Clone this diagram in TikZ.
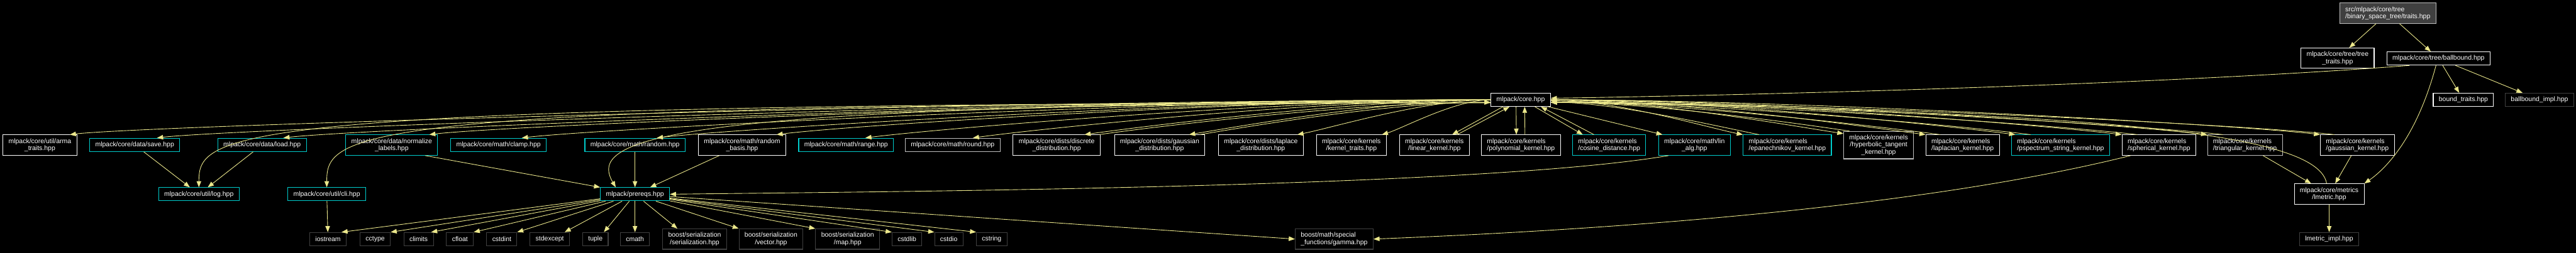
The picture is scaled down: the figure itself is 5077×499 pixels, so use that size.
\documentclass[tikz,border=0pt]{standalone}
\usepackage{fontspec}
\setmainfont{Liberation Sans}
\usetikzlibrary{arrows.meta}

\definecolor{edgecol}{RGB}{236,232,140}
\definecolor{trunccol}{RGB}{0,204,204}
\definecolor{undoccol}{RGB}{191,191,191}
\definecolor{syscol}{RGB}{64,64,64}
\definecolor{rootfill}{RGB}{64,64,64}

\begin{document}
\begin{tikzpicture}[x=1pt, y=1pt, font=\fontsize{13}{14}\selectfont,
        hdr/.style={draw, fill=black, text=white, line width=1.3pt, inner xsep=11pt, inner ysep=7pt, minimum height=26pt, align=center},
        doc/.style={hdr, draw=white},
        undoc/.style={hdr, draw=undoccol},
        trunc/.style={hdr, draw=trunccol},
        sys/.style={hdr, draw=syscol},
        root/.style={hdr, draw=undoccol, fill=rootfill},
        dep/.style={draw=edgecol, line width=1.1pt, -{Triangle[length=12pt, width=9pt]}}]

        \fill[black] (0,0) rectangle (5077,-499);
        \useasboundingbox (0,0) rectangle (5077,-499);

        \node[root, align=left] (traits) at (4706,-26) {src/mlpack/core/tree\\/binary\_space\_tree/traits.hpp};
        \node[doc] (treetraits) at (4607,-115) {mlpack/core/tree/tree\\\_traits.hpp};
        \node[doc] (ballbound) at (4806,-115.5) {mlpack/core/tree/ballbound.hpp};
        \node[doc] (boundtraits) at (4855,-197) {bound\_traits.hpp};
        \node[sys] (ballboundimpl) at (5005,-197) {ballbound\_impl.hpp};
        \node[doc] (core) at (2997,-197) {mlpack/core.hpp};

        \node[doc] (armatraits) at (78.6,-286.5) {mlpack/core/util/arma\\\_traits.hpp};
        \node[trunc] (save) at (265.5,-286) {mlpack/core/data/save.hpp};
        \node[trunc] (load) at (516.5,-286) {mlpack/core/data/load.hpp};
        \node[trunc] (normlabels) at (772,-286.5) {mlpack/core/data/normalize\\\_labels.hpp};
        \node[trunc] (clamp) at (982.5,-286) {mlpack/core/math/clamp.hpp};
        \node[trunc] (random) at (1251.5,-286) {mlpack/core/math/random.hpp};
        \node[doc] (randbasis) at (1462.5,-286.5) {mlpack/core/math/random\\\_basis.hpp};
        \node[trunc] (range) at (1667.5,-286) {mlpack/core/math/range.hpp};
        \node[undoc] (round) at (1877.5,-286) {mlpack/core/math/round.hpp};
        \node[doc] (discrete) at (2082.5,-286.5) {mlpack/core/dists/discrete\\\_distribution.hpp};
        \node[doc] (gaussdist) at (2285.5,-286.5) {mlpack/core/dists/gaussian\\\_distribution.hpp};
        \node[doc] (laplacedist) at (2485,-286.5) {mlpack/core/dists/laplace\\\_distribution.hpp};
        \node[doc] (kerneltraits) at (2663.5,-286.5) {mlpack/core/kernels\\/kernel\_traits.hpp};
        \node[doc] (linear) at (2827,-286.5) {mlpack/core/kernels\\/linear\_kernel.hpp};
        \node[doc, align=left] (polynomial) at (2997.5,-286.5) {mlpack/core/kernels\\/polynomial\_kernel.hpp};
        \node[trunc, align=left] (cosine) at (3171.5,-286.5) {mlpack/core/kernels\\/cosine\_distance.hpp};
        \node[trunc] (linalg) at (3339.5,-286.5) {mlpack/core/math/lin\\\_alg.hpp};
        \node[trunc, align=left] (epan) at (3522.5,-286.5) {mlpack/core/kernels\\/epanechnikov\_kernel.hpp};
        \node[undoc] (hyptan) at (3702.5,-286.5) {mlpack/core/kernels\\/hyperbolic\_tangent\\\_kernel.hpp};
        \node[doc, align=left] (laplacian) at (3868,-286.5) {mlpack/core/kernels\\/laplacian\_kernel.hpp};
        \node[trunc, align=left] (pspectrum) at (4061,-286.5) {mlpack/core/kernels\\/pspectrum\_string\_kernel.hpp};
        \node[doc, align=left] (spherical) at (4255,-286.5) {mlpack/core/kernels\\/spherical\_kernel.hpp};
        \node[undoc, align=left] (triangular) at (4424.5,-286.5) {mlpack/core/kernels\\/triangular\_kernel.hpp};
        \node[doc, align=left] (gausskernel) at (4646,-286.5) {mlpack/core/kernels\\/gaussian\_kernel.hpp};

        \node[trunc] (log) at (392,-383.5) {mlpack/core/util/log.hpp};
        \node[trunc] (cli) at (644,-383.5) {mlpack/core/util/cli.hpp};
        \node[trunc] (prereqs) at (1251.5,-383.5) {mlpack/prereqs.hpp};
        \node[doc] (lmetric) at (4590.5,-383) {mlpack/core/metrics\\/lmetric.hpp};

        \node[sys] (iostream) at (646.5,-472) {iostream};
        \node[sys] (cctype) at (739.5,-472) {cctype};
        \node[sys] (climits) at (825,-472) {climits};
        \node[sys] (cfloat) at (906.5,-472) {cfloat};
        \node[sys] (cstdint) at (989,-472) {cstdint};
        \node[sys] (stdexcept) at (1083.5,-472) {stdexcept};
        \node[sys] (tuple) at (1173.5,-472) {tuple};
        \node[sys] (cmath) at (1251.5,-472) {cmath};
        \node[sys] (serial) at (1369,-472) {boost/serialization\\/serialization.hpp};
        \node[sys] (vector) at (1519.5,-472) {boost/serialization\\/vector.hpp};
        \node[sys] (map) at (1670.5,-472) {boost/serialization\\/map.hpp};
        \node[sys] (cstdlib) at (1787.5,-472) {cstdlib};
        \node[sys] (cstdio) at (1870,-472) {cstdio};
        \node[sys] (cstring) at (1954.5,-472) {cstring};
        \node[sys, align=left] (gamma) at (2629.5,-472) {boost/math/special\\\_functions/gamma.hpp};
        \node[sys] (lmetricimpl) at (4590.5,-472) {lmetric\_impl.hpp};

        \draw[dep] (traits) -- (treetraits);
        \draw[dep] (traits) -- (ballbound);
        \draw[dep] (ballbound) -- (boundtraits);
        \draw[dep] (ballbound) -- (ballboundimpl);
        \draw[dep] ([xshift=-5pt]ballbound.south) .. controls +(-40,-150) and +(36,25) .. (lmetric.north east);
        \draw[dep] ([xshift=-57pt]ballbound.south) .. controls +(-450,-35) and +(500,8) .. ([yshift=3pt]core.east);

        \draw[dep] (core.west) .. controls +(-900,0) and +(150,18) .. ([xshift=59pt]armatraits.north);
        \draw[dep] (core.west) .. controls +(-850,0) and +(150,18) .. ([xshift=44pt]save.north);
        \draw[dep] (core.west) .. controls +(-780,0) and +(150,18) .. ([xshift=42pt]load.north);
        \draw[dep] (core.west) .. controls +(-700,0) and +(150,18) .. ([xshift=74pt]normlabels.north);
        \draw[dep] (core.west) .. controls +(-630,0) and +(150,18) .. ([xshift=46pt]clamp.north);
        \draw[dep] (core.west) .. controls +(-550,0) and +(150,18) .. ([xshift=43pt]random.north);
        \draw[dep] (core.west) .. controls +(-470,0) and +(140,18) .. ([xshift=68pt]randbasis.north);
        \draw[dep] (core.west) .. controls +(-410,0) and +(130,17) .. ([xshift=38pt]range.north);
        \draw[dep] (core.west) .. controls +(-340,0) and +(120,17) .. ([xshift=40pt]round.north);
        \draw[dep] (core.west) .. controls +(-260,0) and +(110,16) .. ([xshift=55pt]discrete.north);
        \draw[dep] (core.west) .. controls +(-200,0) and +(90,15) .. ([xshift=58pt]gaussdist.north);
        \draw[dep] (core.west) .. controls +(-130,0) and +(70,14) .. ([xshift=72pt]laplacedist.north);
        \draw[dep] (core.west) .. controls +(-70,0) and +(40,12) .. ([xshift=60pt]kerneltraits.north);

        \draw[dep] ([xshift=-3pt]discrete.north east) .. controls +(110,16) and +(-260,0) .. ([yshift=-5pt]core.west);
        \draw[dep] ([xshift=79pt]gaussdist.north) .. controls +(90,15) and +(-200,0) .. ([yshift=-5pt]core.west);

        \draw[dep] ([xshift=-35pt]core.south) -- ([xshift=35pt]linear.north);
        \draw[dep] ([xshift=45pt]linear.north) -- ([xshift=-22pt]core.south);
        \draw[dep] ([xshift=-9pt]core.south) -- ([xshift=-9pt]polynomial.north);
        \draw[dep] ([xshift=8pt]polynomial.north) -- ([xshift=8pt]core.south);
        \draw[dep] ([xshift=28pt]core.south) -- ([xshift=-52pt]cosine.north);
        \draw[dep] ([xshift=-30pt]cosine.north) -- ([xshift=40pt]core.south);
        \draw[dep] ([xshift=-5pt]core.south east) -- ([xshift=-63pt]linalg.north);

        \draw[dep] (core.east) .. controls +(125,0) and +(-70,14) .. (epan.north west);
        \draw[dep] (core.east) .. controls +(190,0) and +(-100,15) .. ([yshift=-5pt]hyptan.north west);
        \draw[dep] (core.east) .. controls +(245,0) and +(-120,16) .. (laplacian.north west);
        \draw[dep] (core.east) .. controls +(300,0) and +(-140,18) .. ([xshift=8pt]pspectrum.north west);
        \draw[dep] (core.east) .. controls +(370,0) and +(-150,18) .. (spherical.north west);
        \draw[dep] (core.east) .. controls +(430,0) and +(-150,18) .. (triangular.north west);
        \draw[dep] (core.east) .. controls +(500,0) and +(-150,18) .. (gausskernel.north west);

        \draw[dep] ([xshift=32pt]epan.north west) .. controls +(-70,14) and +(125,0) .. ([yshift=-5pt]core.east);
        \draw[dep] ([xshift=12pt]hyptan.north west) .. controls +(-100,15) and +(190,0) .. ([yshift=-5pt]core.east);
        \draw[dep] ([xshift=29pt]laplacian.north west) .. controls +(-120,16) and +(245,0) .. ([yshift=-5pt]core.east);
        \draw[dep] ([xshift=38pt]pspectrum.north west) .. controls +(-140,18) and +(300,0) .. ([yshift=-5pt]core.east);
        \draw[dep] ([xshift=31pt]spherical.north west) .. controls +(-150,18) and +(370,0) .. ([yshift=-5pt]core.east);
        \draw[dep] ([xshift=31pt]triangular.north west) .. controls +(-150,18) and +(430,0) .. ([yshift=-5pt]core.east);
        \draw[dep] ([xshift=28pt]gausskernel.north west) .. controls +(-150,18) and +(500,0) .. ([yshift=-5pt]core.east);
        \draw[dep] ([xshift=-5pt]lmetric.north) .. controls +(-20,120) and +(900,-25) .. ([yshift=-2pt]core.east);

        \draw[dep] ([yshift=-6pt]core.west) .. controls +(-2500,0) and +(0,110) .. (log.north);
        \draw[dep] ([yshift=-6pt]core.west) .. controls +(-2250,0) and +(0,110) .. (cli.north);
        \draw[dep] ([yshift=-6pt]core.west) .. controls +(-1650,0) and +(-55,95) .. ([xshift=-38pt]prereqs.north);

        \draw[dep] (save) -- (log);
        \draw[dep] (load) -- (log);
        \draw[dep] ([xshift=-25pt]normlabels.south east) -- (prereqs.north west);
        \draw[dep] (random) -- (prereqs);
        \draw[dep] (randbasis) -- (prereqs);
        \draw[dep] ([xshift=20pt]linalg.south west) .. controls +(-380,-65) and +(380,5) .. (prereqs.east);
        \draw[dep] (cli) -- (iostream);

        \draw[dep] (prereqs) -- ([xshift=-10pt]iostream.north east);
        \draw[dep] (prereqs) -- (cctype.north east);
        \draw[dep] (prereqs) -- ([xshift=-5pt]climits.north east);
        \draw[dep] (prereqs) -- (cfloat.north east);
        \draw[dep] (prereqs) -- (cstdint.north east);
        \draw[dep] (prereqs) -- ([xshift=-10pt]stdexcept.north east);
        \draw[dep] (prereqs) -- ([xshift=-9pt]tuple.north east);
        \draw[dep] (prereqs) -- (cmath);
        \draw[dep] (prereqs) -- ([xshift=-34pt]serial.north);
        \draw[dep] (prereqs) -- (vector.north west);
        \draw[dep] (prereqs) -- (map.north west);
        \draw[dep] (prereqs) -- (cstdlib.north west);
        \draw[dep] (prereqs) -- (cstdio.north west);
        \draw[dep] (prereqs) -- (cstring.north west);
        \draw[dep] (prereqs) -- (gamma.west);
        \draw[dep] ([xshift=-56pt]spherical.south) .. controls +(-400,-100) and +(500,20) .. (gamma.east);

        \draw[dep] (triangular) -- (lmetric);
        \draw[dep] (gausskernel) -- (lmetric);
        \draw[dep] (lmetric) -- (lmetricimpl);
\end{tikzpicture}
\end{document}
